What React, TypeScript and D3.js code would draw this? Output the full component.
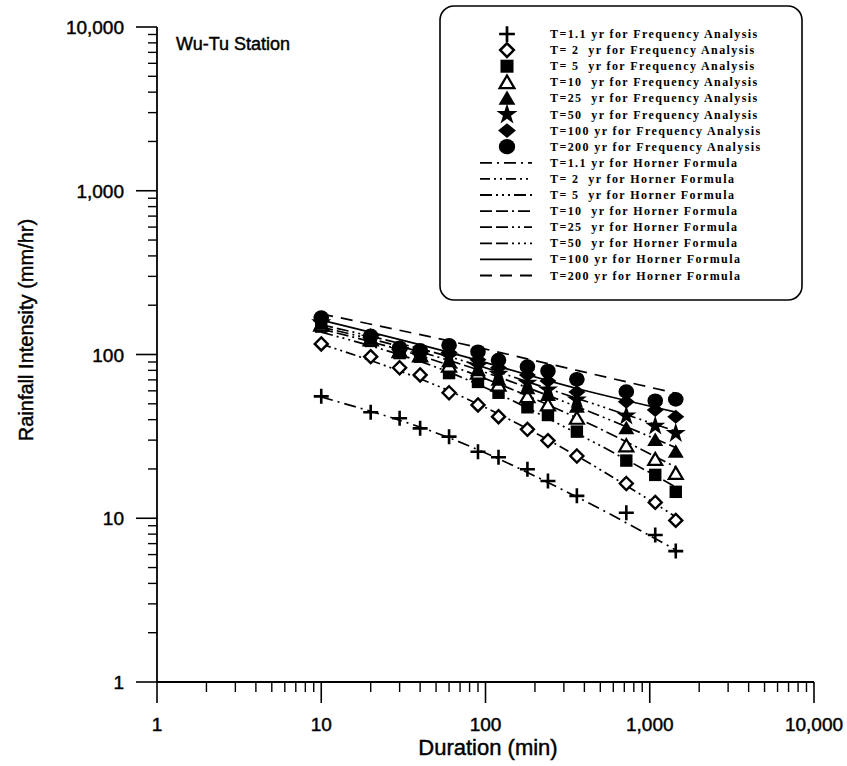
import React from 'react';
import * as d3 from 'd3';

// ---- data ----
const durations = [10, 20, 30, 40, 60, 90, 120, 180, 240, 360, 720, 1080, 1440];

const freqT1_1 = [55.5, 44.4, 40.8, 35.4, 31.5, 25.5, 23.6, 19.9, 16.9, 13.7, 10.8, 7.9, 6.3];
const freqT2 = [116, 97, 83, 75, 58.4, 49.2, 41.7, 34.9, 29.8, 24, 16.3, 12.5, 9.7];
const freqT5 = [148, 121, 102, 97, 77, 68, 58.4, 47.6, 42.7, 33.8, 22.5, 18.4, 14.5];
const freqT10 = [151, 123, 104, 98, 85, 77, 65, 55.3, 49.2, 40.8, 27.7, 22.9, 18.8];
const freqT25 = [154, 125, 105, 99, 91, 80, 70, 62.2, 56.6, 48, 35.4, 30, 25.5];
const freqT50 = [157, 126, 106, 100, 97, 85, 76, 67, 61, 53, 42.2, 36.6, 33];
const freqT100 = [161, 127, 107, 101, 103, 93, 83, 75, 69, 59, 51.5, 45.8, 41.7];
const freqT200 = [168, 130, 110, 106, 114, 104, 92.5, 84.3, 79.3, 70.6, 59.3, 52.2, 53.2];

const hornerDurations = [10, 60, 360, 1440];
const hornerT1_1 = [55, 31, 13.5, 6.4];
const hornerT2 = [116, 60, 24, 10.2];
const hornerT5 = [137, 78, 33, 15.5];
const hornerT10 = [143, 86, 41, 20.5];
const hornerT25 = [147, 92, 48, 27];
const hornerT50 = [152, 97, 54, 34];
const hornerT100 = [162, 103, 62, 44.5];
const hornerT200 = [177, 121, 80, 58];

const freqLabels = [
  'T=1.1 yr for Frequency Analysis',
  'T= 2  yr for Frequency Analysis',
  'T= 5  yr for Frequency Analysis',
  'T=10  yr for Frequency Analysis',
  'T=25  yr for Frequency Analysis',
  'T=50  yr for Frequency Analysis',
  'T=100 yr for Frequency Analysis',
  'T=200 yr for Frequency Analysis',
];
const hornerLabels = [
  'T=1.1 yr for Horner Formula',
  'T= 2  yr for Horner Formula',
  'T= 5  yr for Horner Formula',
  'T=10  yr for Horner Formula',
  'T=25  yr for Horner Formula',
  'T=50  yr for Horner Formula',
  'T=100 yr for Horner Formula',
  'T=200 yr for Horner Formula',
];

const majorTicks = [1, 10, 100, 1000, 10000];
const tickLabels = ['1', '10', '100', '1,000', '10,000'];

const freqSeries = [freqT1_1, freqT2, freqT5, freqT10, freqT25, freqT50, freqT100, freqT200];
const hornerSeries = [hornerT1_1, hornerT2, hornerT5, hornerT10, hornerT25, hornerT50, hornerT100, hornerT200];

// ---- styles ----
const markerKinds = ['plus', 'diamondOpen', 'square', 'triangleOpen', 'triangle', 'star', 'diamond', 'circle'];
const dashes = [
  '12,5,2,5',
  '10,4,2,4,2,4',
  '12,4,2,4,2,4,2,4',
  '12,4,12,4,2,4',
  '12,4,12,4,2,4,2,4',
  '12,4,12,4,2,4,2,4,2,4',
  'none',
  '12,8',
];

function Marker({ kind, cx, cy, scale = 1 }: { kind: string; cx: number; cy: number; scale?: number }) {
  const t = `translate(${cx},${cy}) scale(${scale})`;
  switch (kind) {
    case 'plus':
      return <path transform={t} d="M-7.5,0H7.5M0,-7.5V7.5" stroke="#000" strokeWidth={2.6} fill="none" />;
    case 'diamondOpen':
      return <path transform={t} d="M0,-6.5L6.5,0L0,6.5L-6.5,0Z" stroke="#000" strokeWidth={2.4} fill="#fff" />;
    case 'square':
      return <rect transform={t} x={-6.2} y={-6.2} width={12.4} height={12.4} fill="#000" />;
    case 'triangleOpen':
      return <path transform={t} d="M0,-6.5L7,5.5L-7,5.5Z" stroke="#000" strokeWidth={2.2} fill="#fff" />;
    case 'triangle':
      return <path transform={t} d="M0,-7.5L8,6L-8,6Z" fill="#000" />;
    case 'star':
      return <path transform={t} d={d3.symbol().type(d3.symbolStar).size(125)() || ''} fill="#000" />;
    case 'diamond':
      return <path transform={t} d="M0,-7L8.5,0L0,7L-8.5,0Z" fill="#000" />;
    case 'circle':
    default:
      return <ellipse transform={t} rx={7.8} ry={7.3} fill="#000" />;
  }
}

export default function App() {
  const W = 847;
  const H = 766;
  const x = d3.scaleLog().domain([1, 10000]).range([157, 814]);
  const y = d3.scaleLog().domain([1, 10000]).range([682, 27]);

  const minor: number[] = [];
  for (let dec = 1; dec < 10000; dec *= 10) {
    for (let k = 2; k <= 9; k++) minor.push(dec * k);
  }

  const line = d3
    .line<[number, number]>()
    .x((d) => x(d[0]))
    .y((d) => y(d[1]))
    .curve(d3.curveMonotoneX);

  const font = "'Liberation Sans', Arial, sans-serif";
  const legendFont = "'Liberation Serif', 'Times New Roman', serif";
  const axisY = y(1);
  const axisX = x(1);

  const legendX0 = 440;
  const legendY0 = 6;
  const rowY0 = 34;
  const rowStep = 16.1;
  const heavy = { stroke: '#000', strokeWidth: 0.45 };

  return (
    <svg width={W} height={H} style={{ position: 'absolute', left: 0, top: 0, background: '#fff' }}>
      <rect x={0} y={0} width={W} height={H} fill="#fff" />

      {/* horner lines */}
      {hornerSeries.map((vals, i) => (
        <path
          key={'h' + i}
          d={line(hornerDurations.map((d, j) => [d, vals[j]] as [number, number])) || ''}
          fill="none"
          stroke="#000"
          strokeWidth={1.7}
          strokeDasharray={dashes[i] === 'none' ? undefined : dashes[i]}
        />
      ))}

      {/* markers */}
      {freqSeries.map((vals, i) =>
        vals.map((v, j) => <Marker key={`m${i}-${j}`} kind={markerKinds[i]} cx={x(durations[j])} cy={y(v)} />)
      )}

      {/* axes */}
      <line x1={axisX} x2={x(10000)} y1={axisY} y2={axisY} stroke="#000" strokeWidth={1.8} />
      <line x1={axisX} x2={axisX} y1={y(10000)} y2={axisY} stroke="#000" strokeWidth={1.8} />
      {majorTicks.map((t, i) => (
        <g key={'xt' + i}>
          <line x1={x(t)} x2={x(t)} y1={axisY} y2={axisY + 21} stroke="#000" strokeWidth={1.6} />
          <text x={x(t)} y={731} textAnchor="middle" fontFamily={font} fontSize={19} fill="#000" {...heavy}>
            {tickLabels[i]}
          </text>
          <line x1={axisX} x2={axisX - 21} y1={y(t)} y2={y(t)} stroke="#000" strokeWidth={1.6} />
          <text x={124} y={y(t) + 7} textAnchor="end" fontFamily={font} fontSize={19} fill="#000" {...heavy}>
            {tickLabels[i]}
          </text>
        </g>
      ))}
      {minor.map((t, i) => (
        <g key={'mn' + i}>
          <line x1={x(t)} x2={x(t)} y1={axisY} y2={axisY + 10} stroke="#000" strokeWidth={1.4} />
          <line x1={axisX} x2={axisX - 9} y1={y(t)} y2={y(t)} stroke="#000" strokeWidth={1.4} />
        </g>
      ))}

      {/* axis titles */}
      <text x={488} y={755} textAnchor="middle" fontFamily={font} fontSize={22} fill="#000" {...heavy}>
        Duration (min)
      </text>
      <text
        transform={`translate(33,${330}) rotate(-90)`}
        textAnchor="middle"
        fontFamily={font}
        fontSize={20}
        fill="#000"
        {...heavy}
      >
        Rainfall Intensity (mm/hr)
      </text>
      <text x={176} y={50} fontFamily={font} fontSize={18} fill="#000" {...heavy}>
        Wu-Tu Station
      </text>

      {/* legend */}
      <rect x={legendX0} y={legendY0} width={362} height={294} rx={14} fill="#fff" stroke="#000" strokeWidth={1.6} />
      {freqLabels.map((lab, i) => {
        const ry = rowY0 + i * rowStep;
        return (
          <g key={'lf' + i}>
            <Marker kind={markerKinds[i]} cx={507} cy={ry} scale={1.05} />
            <text
              x={550}
              y={ry + 4}
              fontFamily={legendFont}
              fontWeight="bold"
              fontSize={12}
              letterSpacing={1.4}
              style={{ whiteSpace: 'pre' }}
              fill="#000"
            >
              {lab}
            </text>
          </g>
        );
      })}
      {hornerLabels.map((lab, i) => {
        const ry = rowY0 + (i + 8) * rowStep;
        return (
          <g key={'lh' + i}>
            <line
              x1={480}
              x2={532}
              y1={ry}
              y2={ry}
              stroke="#000"
              strokeWidth={1.8}
              strokeDasharray={dashes[i] === 'none' ? undefined : dashes[i]}
            />
            <text
              x={550}
              y={ry + 4}
              fontFamily={legendFont}
              fontWeight="bold"
              fontSize={12}
              letterSpacing={1.4}
              style={{ whiteSpace: 'pre' }}
              fill="#000"
            >
              {lab}
            </text>
          </g>
        );
      })}
    </svg>
  );
}
